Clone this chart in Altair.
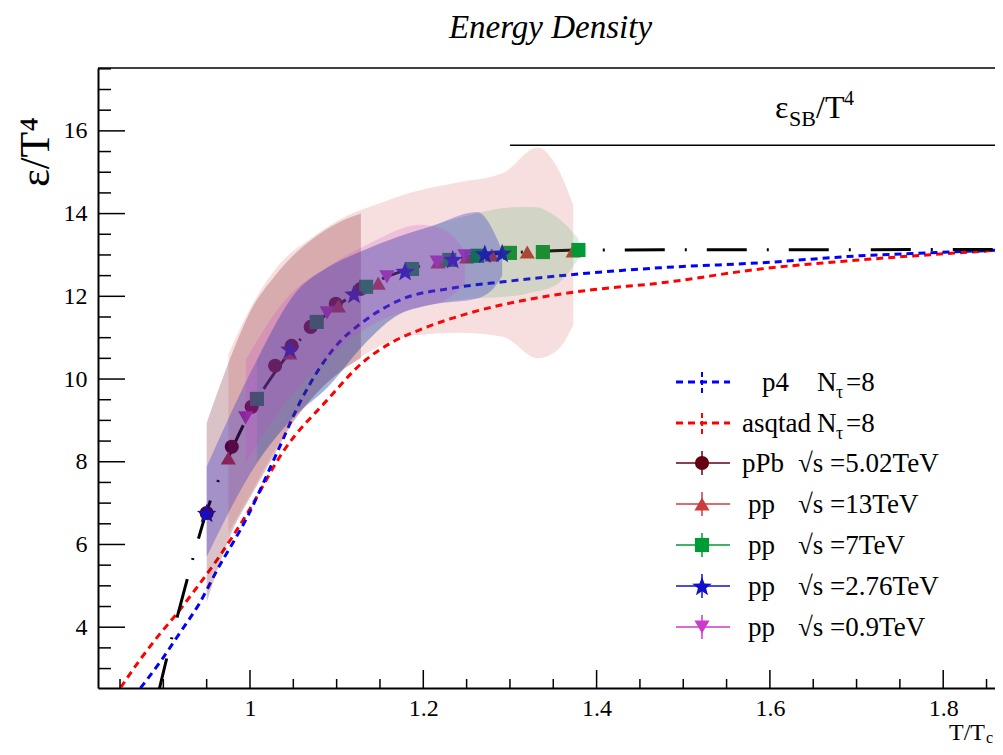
import math
import altair as alt
import pandas as pd

# ---------------- data ----------------
p4_T = [0.865, 0.898, 0.919, 0.942, 0.962, 0.997, 1.031, 1.058, 1.096, 1.135, 1.173, 1.234, 1.292, 1.369, 1.473, 1.589, 1.704, 1.781, 1.869]
p4_e = [2.30, 3.21, 3.86, 4.59, 5.38, 6.67, 8.21, 9.45, 10.72, 11.45, 11.91, 12.20, 12.35, 12.52, 12.69, 12.81, 12.98, 13.05, 13.12]

asq_T = [0.843, 0.873, 0.893, 0.916, 0.939, 0.962, 0.997, 1.040, 1.089, 1.130, 1.165, 1.196, 1.254, 1.331, 1.392, 1.473, 1.589, 1.704, 1.781, 1.869]
asq_e = [2.30, 3.21, 3.76, 4.34, 4.97, 5.63, 6.76, 8.30, 9.49, 10.40, 10.90, 11.19, 11.60, 11.96, 12.15, 12.32, 12.66, 12.88, 13.00, 13.12]

fit_T = [0.893, 0.910, 0.923, 0.934, 0.950, 0.975, 1.000, 1.030, 1.060, 1.090, 1.120, 1.150, 1.200, 1.250, 1.300, 1.350, 1.400, 1.869]
fit_e = [2.30, 3.76, 4.80, 5.65, 6.80, 8.10, 9.20, 10.20, 11.00, 11.60, 12.05, 12.40, 12.75, 12.95, 13.05, 13.10, 13.12, 13.13]

ppb_T = [0.950, 0.979, 1.002, 1.029, 1.048, 1.070, 1.099, 1.128]
ppb_e = [6.76, 8.36, 9.33, 10.32, 10.80, 11.26, 11.82, 12.18]

pp13_T = [0.975, 1.046, 1.102, 1.148, 1.217, 1.250, 1.279, 1.320, 1.373]
pp13_e = [8.09, 10.63, 11.77, 12.32, 12.83, 12.95, 13.00, 13.07, 13.10]

pp7_T = [1.008, 1.077, 1.134, 1.187, 1.230, 1.262, 1.300, 1.338, 1.379]
pp7_e = [9.52, 11.38, 12.23, 12.66, 12.88, 12.98, 13.05, 13.07, 13.12]

pp276_T = [0.950, 1.046, 1.120, 1.179, 1.234, 1.271, 1.291]
pp276_e = [6.76, 10.73, 12.06, 12.61, 12.90, 13.03, 13.05]

pp09_T = [0.995, 1.089, 1.158, 1.216, 1.248]
pp09_e = [9.06, 11.60, 12.47, 12.83, 12.98]

# error bands
bppb_T = [0.950, 0.979, 1.002, 1.029, 1.048, 1.070, 1.099, 1.128]
bppb_hi = [8.94, 10.60, 11.70, 12.50, 12.95, 13.35, 13.75, 14.00]
bppb_lo = [4.60, 6.30, 7.20, 8.20, 8.90, 9.50, 10.10, 10.50]

b13_T = [0.975, 1.000, 1.035, 1.070, 1.112, 1.150, 1.188, 1.240, 1.292, 1.332, 1.355, 1.373]
b13_hi = [10.60, 11.70, 12.80, 13.40, 13.95, 14.25, 14.52, 14.75, 14.98, 15.60, 15.10, 14.20]
b13_lo = [6.28, 7.20, 8.50, 9.50, 10.29, 10.80, 11.05, 11.12, 11.02, 10.50, 10.70, 11.30]

b7_T = [1.008, 1.050, 1.090, 1.130, 1.167, 1.210, 1.260, 1.300, 1.327, 1.355, 1.379]
b7_hi = [10.46, 12.00, 12.70, 13.10, 13.41, 13.70, 14.00, 14.15, 14.16, 13.90, 13.40]
b7_lo = [7.97, 9.10, 9.81, 10.80, 11.50, 11.80, 11.95, 12.00, 12.10, 12.30, 12.90]

b276_T = [0.950, 1.008, 1.052, 1.090, 1.130, 1.167, 1.210, 1.262, 1.285, 1.291]
b276_hi = [7.88, 10.46, 12.08, 12.70, 13.10, 13.41, 13.70, 14.04, 13.40, 13.10]
b276_lo = [5.70, 7.97, 9.10, 9.81, 10.80, 11.50, 11.80, 11.95, 12.30, 12.50]

b09_T = [0.995, 1.040, 1.089, 1.140, 1.196, 1.225, 1.248]
b09_hi = [10.46, 11.90, 12.70, 13.30, 13.73, 13.60, 13.10]
b09_lo = [7.97, 9.40, 10.50, 11.30, 11.74, 11.90, 12.30]

sb_T = [1.30, 1.95]
sb_e = [15.65, 15.65]

x_major = [1.0, 1.2, 1.4, 1.6, 1.8]
x_minor = [0.85, 0.90, 0.95, 1.05, 1.10, 1.15, 1.25, 1.30, 1.35, 1.45, 1.50, 1.55, 1.65, 1.70, 1.75, 1.85]
y_major = [4, 6, 8, 10, 12, 14, 16]
y_minor = [3.0, 3.5, 4.5, 5.0, 5.5, 6.5, 7.0, 7.5, 8.5, 9.0, 9.5, 10.5, 11.0, 11.5, 12.5, 13.0, 13.5,
           14.5, 15.0, 15.5, 16.5, 17.0, 17.5]

# ---------------- styling ----------------
FONT = "Liberation Serif"
W, H = 905, 620
C_PPB = "#650012"
C_13 = "#cc3b3b"
C_7 = "#009a36"
C_276 = "#1010cc"
C_09 = "#cc3acc"

xs = alt.Scale(domain=[0.8246, 1.869], nice=False, zero=False)
ys = alt.Scale(domain=[2.53, 17.52], nice=False, zero=False)
xaxis = alt.Axis(values=x_major, ticks=False, grid=False, title=None, format="~g",
                 labelFont=FONT, labelFontSize=24, labelColor="black", labelPadding=8,
                 domain=True, domainColor="black", domainWidth=2)
yaxis = alt.Axis(values=y_major, ticks=False, grid=False, title=None, format="~g",
                 labelFont=FONT, labelFontSize=24, labelColor="black", labelPadding=11,
                 domain=True, domainColor="black", domainWidth=2)


def X(f):
    return alt.X(f, type="quantitative", scale=xs, axis=xaxis)


def Y(f):
    return alt.Y(f, type="quantitative", scale=ys, axis=yaxis)


one = pd.DataFrame({"a": [0]})
layers = []

# lattice curves
layers.append(alt.Chart(pd.DataFrame({"T": asq_T, "e": asq_e})).mark_line(
    color="#ff0000", strokeWidth=3, strokeDash=[7, 5], clip=True, interpolate="monotone"
).encode(x=X("T"), y=Y("e")))
layers.append(alt.Chart(pd.DataFrame({"T": p4_T, "e": p4_e})).mark_line(
    color="#0000ff", strokeWidth=3, strokeDash=[7, 5], clip=True, interpolate="monotone"
).encode(x=X("T"), y=Y("e")))
# fit
layers.append(alt.Chart(pd.DataFrame({"T": fit_T, "e": fit_e})).mark_line(
    color="black", strokeWidth=3, strokeDash=[40, 20, 2, 20], clip=True, interpolate="monotone"
).encode(x=X("T"), y=Y("e")))

# star path
pts = []
for i in range(10):
    r = 1.0 if i % 2 == 0 else 0.42
    a = -math.pi / 2 + i * math.pi / 5
    pts.append((r * math.cos(a), r * math.sin(a) + 0.1))
STAR = "M" + " L".join(f"{px:.3f},{py:.3f}" for px, py in pts) + " Z"

series = [
    (ppb_T, ppb_e, C_PPB, "circle", 200),
    (pp13_T, pp13_e, C_13, "triangle-up", 230),
    (pp7_T, pp7_e, C_7, "square", 200),
    (pp276_T, pp276_e, C_276, STAR, 420),
    (pp09_T, pp09_e, C_09, "triangle-down", 230),
]
for T, e, c, shp, sz in series:
    layers.append(alt.Chart(pd.DataFrame({"T": T, "e": e})).mark_point(
        shape=shp, filled=True, size=sz, color=c, opacity=1
    ).encode(x=X("T"), y=Y("e")))

bands = [
    (bppb_T, bppb_lo, bppb_hi, C_PPB, 0.24),
    (b13_T, b13_lo, b13_hi, C_13, 0.16),
    (b7_T, b7_lo, b7_hi, C_7, 0.15),
    (b276_T, b276_lo, b276_hi, C_276, 0.27),
    (b09_T, b09_lo, b09_hi, C_09, 0.2),
]
for T, lo, hi, c, op in bands:
    layers.append(alt.Chart(pd.DataFrame({"T": T, "lo": lo, "hi": hi})).mark_area(
        color=c, opacity=op, interpolate="monotone", clip=True
    ).encode(x=X("T"), y=Y("lo"), y2=alt.Y2("hi")))

# Stefan-Boltzmann limit
layers.append(alt.Chart(pd.DataFrame({"T": sb_T, "e": sb_e})).mark_line(
    color="black", strokeWidth=1.5, clip=True
).encode(x=X("T"), y=Y("e")))

# inward ticks
layers.append(alt.Chart(pd.DataFrame({"v": x_major})).mark_rule(color="black", strokeWidth=1.5)
              .encode(x=X("v"), y=alt.value(H), y2=alt.value(H - 18)))
layers.append(alt.Chart(pd.DataFrame({"v": x_minor})).mark_rule(color="black", strokeWidth=1.5)
              .encode(x=X("v"), y=alt.value(H), y2=alt.value(H - 9)))
layers.append(alt.Chart(pd.DataFrame({"v": y_major})).mark_rule(color="black", strokeWidth=1.5)
              .encode(y=Y("v"), x=alt.value(0), x2=alt.value(27)))
layers.append(alt.Chart(pd.DataFrame({"v": y_minor})).mark_rule(color="black", strokeWidth=1.5)
              .encode(y=Y("v"), x=alt.value(0), x2=alt.value(13)))
# top frame line
layers.append(alt.Chart(one).mark_rule(color="black", strokeWidth=1.5)
              .encode(x=alt.value(0), x2=alt.value(W), y=alt.value(0)))


def txt(s, x, y, size, align="left", baseline="alphabetic", style="normal", angle=0, color="black"):
    kw = dict(text=s, font=FONT, fontSize=size, align=align, baseline=baseline,
              fontStyle=style, color=color)
    if angle:
        kw["angle"] = angle
    return alt.Chart(one).mark_text(**kw).encode(x=alt.value(x), y=alt.value(y))


# titles
layers.append(txt("Energy Density", W / 2, -30, 33, align="center", style="italic"))
layers.append(txt("ε/T⁴", -62, 84, 42, align="center", baseline="middle", angle=270))
layers.append(txt("T/T", 887, 672, 24, align="right"))
layers.append(txt("c", 888, 675, 16))
# SB label
layers.append(txt("ε", 677, 50, 32))
layers.append(txt("SB", 691, 58, 22))
layers.append(txt("/T", 718, 50, 32))
layers.append(txt("4", 746, 37, 20))

# legend
rows = [314, 355, 395, 436, 477, 518, 559]
LX0, LX1, LXC = 578, 632, 604
legend_lines = [("#0000ff", True), ("#ff0000", True), (C_PPB, False), (C_13, False),
                (C_7, False), (C_276, False), (C_09, False)]
for (c, dashed), ry in zip(legend_lines, rows):
    if dashed:
        layers.append(alt.Chart(one).mark_rule(color=c, strokeWidth=3, strokeDash=[7, 5])
                      .encode(x=alt.value(LX0), x2=alt.value(LX1), y=alt.value(ry)))
        layers.append(alt.Chart(one).mark_rule(color=c, strokeWidth=2, strokeDash=[5, 3])
                      .encode(x=alt.value(LXC), y=alt.value(ry - 10), y2=alt.value(ry + 11)))
    else:
        layers.append(alt.Chart(one).mark_rule(color=c, strokeWidth=1.5)
                      .encode(x=alt.value(LX0), x2=alt.value(LX1), y=alt.value(ry)))
        layers.append(alt.Chart(one).mark_rule(color=c, strokeWidth=1.5)
                      .encode(x=alt.value(LXC), y=alt.value(ry - 12), y2=alt.value(ry + 12)))

leg_sym = [(C_PPB, "circle", 200), (C_13, "triangle-up", 230), (C_7, "square", 200),
           (C_276, STAR, 420), (C_09, "triangle-down", 230)]
for (c, shp, sz), ry in zip(leg_sym, rows[2:]):
    layers.append(alt.Chart(one).mark_point(shape=shp, filled=True, size=sz, color=c, opacity=1)
                  .encode(x=alt.value(LXC), y=alt.value(ry)))

FS = 27
r = rows
layers += [
    txt("p4", 664, r[0] + 9, FS), txt("N", 719, r[0] + 9, FS), txt("τ", 738, r[0] + 16, 18),
    txt("=8", 748, r[0] + 9, FS),
    txt("asqtad", 644, r[1] + 9, FS), txt("N", 719, r[1] + 9, FS), txt("τ", 738, r[1] + 16, 18),
    txt("=8", 748, r[1] + 9, FS),
    txt("pPb", 644, r[2] + 9, FS), txt("√s =5.02TeV", 700, r[2] + 9, FS),
    txt("pp", 650, r[3] + 9, FS), txt("√s =13TeV", 700, r[3] + 9, FS),
    txt("pp", 650, r[4] + 9, FS), txt("√s =7TeV", 700, r[4] + 9, FS),
    txt("pp", 650, r[5] + 9, FS), txt("√s =2.76TeV", 700, r[5] + 9, FS),
    txt("pp", 650, r[6] + 9, FS), txt("√s =0.9TeV", 700, r[6] + 9, FS),
]

chart = alt.layer(*layers).properties(
    width=W, height=H,
    autosize=alt.AutoSizeParams(type="none"),
    padding={"left": 90, "top": 60, "right": -8, "bottom": 58},
    background="white",
).configure_view(stroke=None)

chart.save("out.html", embed_options={"renderer": "svg", "actions": False})
